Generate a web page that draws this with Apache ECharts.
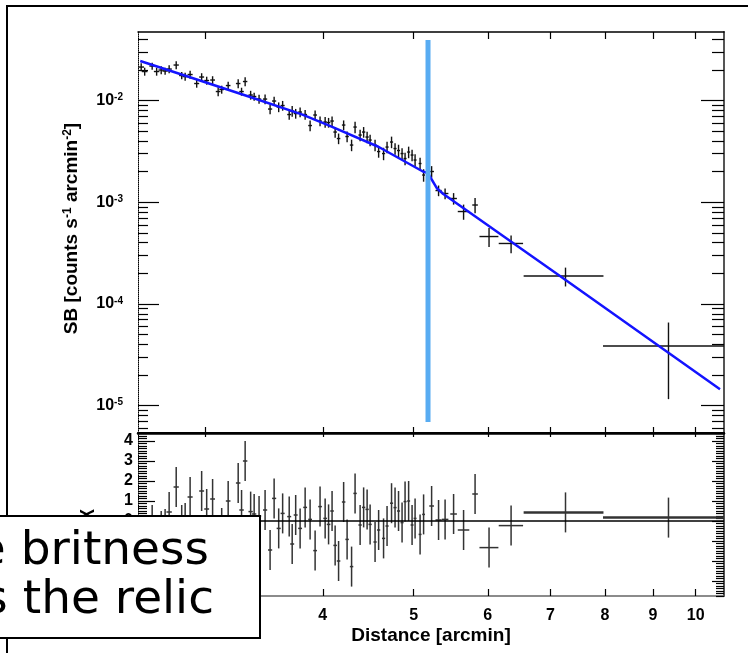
<!DOCTYPE html>
<html><head><meta charset="utf-8">
<script src="https://cdn.jsdelivr.net/npm/echarts@6/dist/echarts.min.js"></script>
<style>html,body{margin:0;padding:0;background:#fff}#c{width:748px;height:653px}</style>
</head><body><div id="c"></div>
<script>
// ---------- data ----------
const distance = [2.560,2.582,2.630,2.659,2.689,2.715,2.742,2.790,2.828,2.852,2.887,2.934,2.970,3.007,3.051,3.093,3.120,3.170,3.249,3.276,3.305,3.350,3.379,3.420,
  3.471,3.514,3.549,3.589,3.624,3.683,3.710,3.742,3.783,3.830,3.877,3.925,3.973,4.023,4.057,4.092,4.123,4.158,4.210,4.246,4.293,4.330,4.384,4.422,4.460,4.493,
  4.548,4.588,4.644,4.684,4.736,4.777,4.818,4.860,4.896,4.939,4.981,5.018,5.080,5.124,5.226,5.316,5.402,5.516,5.653,5.815,6.018,6.353,7.262,9.353];
const surfaceBrightness = [0.02135,0.01929,0.02184,0.01929,0.01995,0.0195,0.0204,0.02234,0.01762,0.01722,0.01802,0.0147,0.01703,0.01573,0.01591,0.01226,0.01283,0.01404,0.0147,0.01226,0.01538,0.01133,0.01095,0.01034,
  0.01034,0.008249,0.009887,0.008633,0.008929,0.007284,0.007884,0.007451,0.007707,0.007284,0.005676,0.007203,0.006287,0.006146,0.006077,0.006287,0.0049,0.00423,0.005741,0.004426,0.00365,0.005487,0.004579,0.0049,0.004376,0.004089,
  0.00365,0.00315,0.003011,0.003488,0.003908,0.003373,0.003224,0.003011,0.00269,0.003115,0.002911,0.0026,0.002402,0.001851,0.002004,0.001303,0.001218,0.001088,0.00081,0.000939,0.00046,0.000393,0.000188,0.0000386];
const binHalfWidth = [0.018,0.018,0.018,0.018,0.018,0.018,0.018,0.018,0.018,0.018,0.018,0.018,0.018,0.018,0.018,0.018,0.018,0.018,0.018,0.018,0.018,0.018,0.018,0.018,
  0.018,0.018,0.018,0.018,0.018,0.018,0.018,0.018,0.018,0.018,0.018,0.018,0.018,0.018,0.018,0.018,0.018,0.018,0.018,0.018,0.018,0.018,0.018,0.018,0.018,0.018,
  0.018,0.018,0.018,0.018,0.018,0.018,0.018,0.018,0.018,0.018,0.018,0.018,0.018,0.018,0.03,0.04,0.044,0.045,0.08,0.04,0.14,0.19,0.71,1.39];
const sbRelError = [0.09,0.09,0.08,0.09,0.09,0.08,0.09,0.09,0.08,0.09,0.09,0.09,0.09,0.09,0.09,0.10,0.09,0.09,0.10,0.09,0.10,0.10,0.09,0.10,
  0.11,0.11,0.10,0.11,0.11,0.11,0.12,0.11,0.11,0.11,0.12,0.11,0.11,0.12,0.11,0.11,0.12,0.12,0.11,0.12,0.13,0.13,0.13,0.12,0.13,0.13,
  0.13,0.13,0.14,0.13,0.13,0.13,0.14,0.13,0.14,0.13,0.13,0.14,0.14,0.14,0.13,0.12,0.12,0.13,0.17,0.17,0.21,0.20,0.21,0.70];
const residuals = [-1.2,-1.9,-0.2,-1.1,-0.5,-0.4,0.45,1.7,-0.2,-0.1,1.2,-0.9,1.5,0.6,1.1,-1.0,-0.35,1.0,1.9,0.55,3.0,0.47,0.35,0.25,
  0.55,-1.45,1.13,-0.37,0.38,0.22,-1.15,0.3,-0.37,0.68,0.08,-1.48,0.72,0.13,-0.17,0.5,-1.22,-2.0,0.95,-0.92,-2.28,1.38,-0.2,0.68,0.58,-0.17,
  -1.05,-0.45,-0.87,-0.25,0.89,0.67,0.5,-0.08,0.97,1.0,-0.2,0.13,-0.67,0.33,0.75,0.05,0.08,0.35,-0.45,1.35,-1.33,-0.23,0.43,0.17];
const fitDistance = [2.554,2.838,3.346,3.799,4.052,4.585,5.121,5.180,5.206,5.297,5.379,7.164,10.615];
const fitSB = [0.02445,0.01781,0.01082,0.00732,0.005742,0.003513,0.001995,0.00194,0.001781,0.001364,0.001204,0.000188,0.00001446];
const relicPosition = 5.18;
const relicSBRange = [0.0000069, 0.0394];
const xTickValues = [3,4,5,6,7,8,9,10];
const sbMajorTicks = [1e-5,1e-4,1e-3,1e-2];
const residualTicks = [-3,-2,-1,0,1,2,3,4];
const xRange = [2.54, 10.72];
const sbRange = [5.38e-6, 0.0472];
const residualRange = [-3.75, 4.4];

// ---------- derived helpers ----------
const FONT = '"Liberation Sans", Arial, sans-serif';
const sbMinorTicks = [];
[1e-6,1e-5,1e-4,1e-3,1e-2].forEach(d => { for (let m = 2; m <= 9; m++) { const v = m * d; if (v > sbRange[0] && v < sbRange[1]) sbMinorTicks.push(v); } });
const residualMinorTicks = [];
for (let k = Math.ceil(residualRange[0] * 8); k <= Math.floor(residualRange[1] * 8); k++) { if (k % 8 !== 0) residualMinorTicks.push(k / 8); }

const sbData = distance.map((x, i) => [x, surfaceBrightness[i], binHalfWidth[i],
  surfaceBrightness[i] * (1 - sbRelError[i]), surfaceBrightness[i] * (1 + sbRelError[i])]);
const resData = distance.map((x, i) => [x, residuals[i], binHalfWidth[i], residuals[i] - 1, residuals[i] + 1]);

function crossRenderer(color, width, hWidthWide) {
  return function (params, api) {
    const x = api.value(0), y = api.value(1), dx = api.value(2), lo = api.value(3), hi = api.value(4);
    const pL = api.coord([x - dx, y]), pR = api.coord([x + dx, y]);
    const pB = api.coord([x, lo]), pT = api.coord([x, hi]);
    const hw = (hWidthWide && (pR[0] - pL[0]) > 50) ? hWidthWide : width;
    return { type: 'group', children: [
      { type: 'line', shape: { x1: pL[0], y1: pL[1], x2: pR[0], y2: pR[1] }, style: { stroke: color, lineWidth: hw } },
      { type: 'line', shape: { x1: pB[0], y1: pB[1], x2: pT[0], y2: pT[1] }, style: { stroke: color, lineWidth: width } }
    ] };
  };
}

const supRich = {
  b: { fontSize: 16, fontWeight: 'bold', fontFamily: FONT, color: '#000', verticalAlign: 'bottom' },
  s: { fontSize: 10, fontWeight: 'bold', fontFamily: FONT, color: '#000', verticalAlign: 'top' }
};
const nameRich = {
  n: { fontSize: 19, fontWeight: 'bold', fontFamily: FONT, color: '#000', verticalAlign: 'bottom' },
  s: { fontSize: 12, fontWeight: 'bold', fontFamily: FONT, color: '#000', verticalAlign: 'top' }
};

function xAxisDef(grid, pos, line, tick, labels) {
  const a = { gridIndex: grid, type: 'log', logBase: 10, min: xRange[0], max: xRange[1], position: pos,
    axisLine: { onZero: false, lineStyle: line },
    axisTick: { inside: true, length: tick, customValues: xTickValues, lineStyle: { color: '#000', width: 1.2 } },
    axisLabel: { show: false }, splitLine: { show: false }, minorTick: { show: false } };
  if (labels) {
    a.axisLabel = { show: true, customValues: xTickValues, formatter: v => String(Math.round(v)), fontSize: 16, fontWeight: 'bold',
      fontFamily: FONT, color: '#000', margin: 12 };
    a.name = 'Distance [arcmin]'; a.nameLocation = 'middle'; a.nameGap = 30;
    a.nameTextStyle = { fontSize: 19, fontWeight: 'bold', fontFamily: FONT, color: '#000' };
  }
  return a;
}
function yAxisDef(grid, type, range, pos, line, ticks, tickLen, extra) {
  return Object.assign({ gridIndex: grid, type: type, min: range[0], max: range[1], position: pos,
    axisLine: line ? { show: true, onZero: false, lineStyle: line } : { show: false },
    axisTick: { show: true, inside: true, length: tickLen, customValues: ticks, lineStyle: { color: '#000', width: 1.2 } },
    axisLabel: { show: false }, splitLine: { show: false }, minorTick: { show: false } }, extra || {});
}

const chart = echarts.init(document.getElementById('c'), null, { renderer: 'canvas' });
chart.setOption({
  backgroundColor: '#fff',
  animation: false,
  grid: [
    { left: 138, top: 32, width: 586, height: 401 },
    { left: 138, top: 433, width: 586, height: 163 }
  ],
  xAxis: [
    xAxisDef(0, 'bottom', { color: '#000', width: 2 }, 6, false),
    xAxisDef(0, 'top', { color: '#000', width: 1.5 }, 7, false),
    xAxisDef(1, 'bottom', { color: '#666', width: 1.5 }, 7, true),
    xAxisDef(1, 'top', { color: '#000', width: 2.5 }, 4, false)
  ],
  yAxis: [
    yAxisDef(0, 'log', sbRange, 'left', { color: '#000', width: 1, type: 'dotted' }, sbMajorTicks, 21, {
      axisLabel: { show: true, customValues: sbMajorTicks, margin: 15,
        formatter: v => '{b|10}{s|' + Math.round(Math.log10(v)) + '}', rich: supRich },
      name: '{n|SB [counts s}{s|-1}{n| arcmin}{s|-2}{n|]}', nameLocation: 'middle', nameRotate: 90, nameGap: 57,
      nameTextStyle: { rich: nameRich, padding: [0, 0, 0, 8] }
    }),
    yAxisDef(0, 'log', sbRange, 'left', null, sbMinorTicks, 10),
    yAxisDef(0, 'log', sbRange, 'right', { color: '#555', width: 2 }, sbMajorTicks, 23),
    yAxisDef(0, 'log', sbRange, 'right', null, sbMinorTicks, 12),
    yAxisDef(1, 'value', residualRange, 'left', { color: '#000', width: 1, type: 'dotted' }, residualTicks, 17, {
      axisLabel: { show: true, customValues: residualTicks, margin: 5, fontSize: 16, fontWeight: 'bold', fontFamily: FONT, color: '#000' },
      name: 'χ', nameLocation: 'middle', nameRotate: 90, nameGap: 44,
      nameTextStyle: { fontSize: 19, fontWeight: 'bold', fontFamily: FONT, color: '#000' }
    }),
    yAxisDef(1, 'value', residualRange, 'left', null, residualMinorTicks, 9),
    yAxisDef(1, 'value', residualRange, 'right', { color: '#555', width: 2 }, residualTicks, 12),
    yAxisDef(1, 'value', residualRange, 'right', null, residualMinorTicks, 8)
  ],
  series: [
    { type: 'custom', name: 'SB data', xAxisIndex: 0, yAxisIndex: 0, data: sbData, encode: { x: 0, y: 1 },
      renderItem: crossRenderer('#111', 1.4), clip: true, z: 2 },
    { type: 'line', name: 'fit', xAxisIndex: 0, yAxisIndex: 0, data: fitDistance.map((x, i) => [x, fitSB[i]]),
      symbol: 'none', lineStyle: { color: '#1414ff', width: 2.5 }, z: 3 },
    { type: 'line', name: 'relic', xAxisIndex: 0, yAxisIndex: 0,
      data: [[relicPosition, relicSBRange[0]], [relicPosition, relicSBRange[1]]],
      symbol: 'none', lineStyle: { color: '#58acf2', width: 5 }, z: 5 },
    { type: 'custom', name: 'residuals', xAxisIndex: 2, yAxisIndex: 4, data: resData, encode: { x: 0, y: 1 },
      renderItem: crossRenderer('#333', 1.5, 2.5), clip: true, z: 2 },
    { type: 'line', name: 'zero', xAxisIndex: 2, yAxisIndex: 4, data: [[xRange[0], 0], [xRange[1], 0]],
      symbol: 'none', lineStyle: { color: '#000', width: 1.5 }, z: 3 }
  ],
  graphic: [
    { type: 'rect', z: 100, silent: true, shape: { x: 7, y: 6, width: 800, height: 700 },
      style: { fill: 'none', stroke: '#000', lineWidth: 2 } },
    { type: 'rect', z: 110, silent: true, shape: { x: -300, y: 516, width: 560, height: 122 },
      style: { fill: '#fff', stroke: '#000', lineWidth: 2 } },
    { type: 'text', z: 111, silent: true, style: { text: 'Surface britness', x: 209, y: 552, textAlign: 'right', textVerticalAlign: 'middle',
      font: '47px "DejaVu Sans"', fill: '#000' } },
    { type: 'text', z: 111, silent: true, style: { text: 'across the relic', x: 214, y: 601, textAlign: 'right', textVerticalAlign: 'middle',
      font: '47px "DejaVu Sans"', fill: '#000' } }
  ]
});
</script></body></html>
